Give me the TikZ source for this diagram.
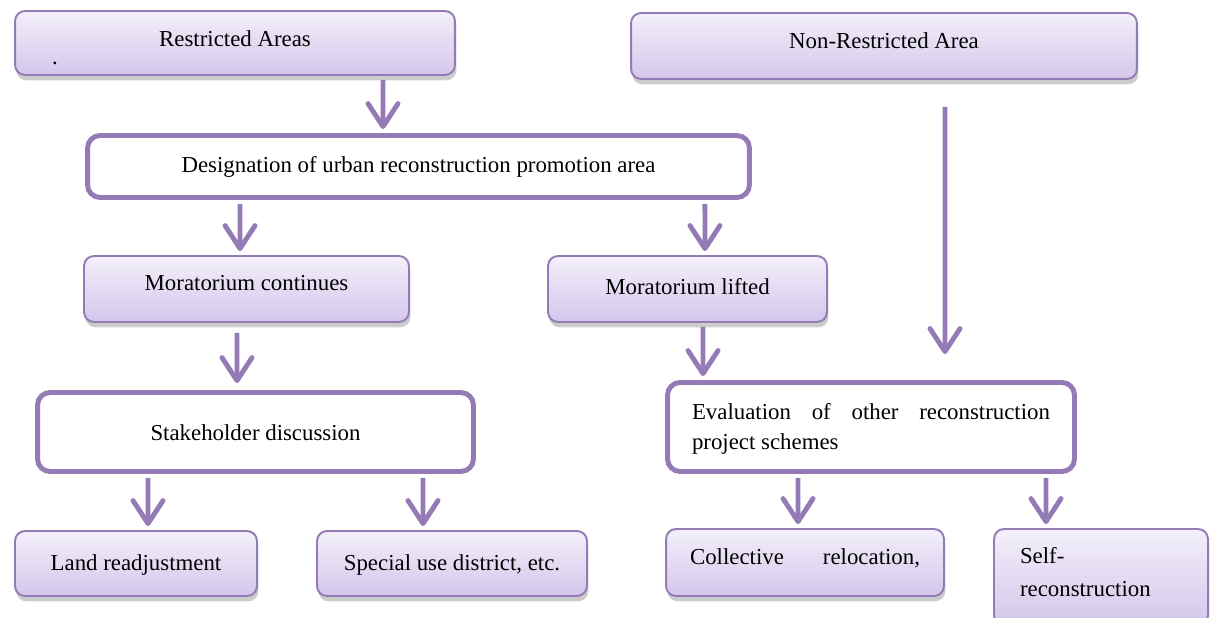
\documentclass[tikz,border=0pt]{standalone}
\usepackage{fontspec}
\setmainfont{Liberation Serif}
\usetikzlibrary{arrows.meta, shadows}
\tikzset{>={Straight Barb[length=4.6mm,width=6mm,round]}}
\definecolor{lineColor}{RGB}{149, 123, 181}
\definecolor{topColor}{RGB}{243, 240, 250}
\definecolor{bottomColor}{RGB}{212, 198, 235}

\begin{document}
\begin{tikzpicture}[
    x = 0.02cm, y = -0.02cm,
    font = \fontsize{13}{17}\selectfont,
    box/.style = {draw=lineColor, line width=1.1pt, rounded corners=2mm,
        top color=topColor, bottom color=bottomColor, inner sep=0mm,
        drop shadow={shadow xshift=0.8pt, shadow yshift=-3pt, opacity=0.4}},
    bigbox/.style = {draw=lineColor, line width=2.8pt, rounded corners=2.5mm,
        fill=white, inner sep=0mm},
    flow/.style = {->, draw=lineColor, line width=2.8pt,
        shorten <=0.08cm, shorten >=0.08cm}
  ]
  \useasboundingbox (0,0) rectangle (1211,618);

  % top row
  \node[box, minimum width=8.8cm, minimum height=1.28cm, align=center,
    text height=0.86cm, text depth=0cm]
    (RA) at (235,43) {Restricted Areas\\[-7pt]\makebox[7.32cm][l]{.}};
  \node[box, minimum width=10.12cm, minimum height=1.32cm, text depth=0.2cm]
    (NRA) at (884,46) {Non-Restricted Area};

  \node[bigbox, minimum width=13.24cm, minimum height=1.24cm]
    (DES) at (418.5,166.5) {Designation of urban reconstruction promotion area};

  \node[box, minimum width=6.5cm, minimum height=1.32cm, text depth=0.24cm]
    (MC) at (246.5,289) {Moratorium continues};
  \node[box, minimum width=5.58cm, minimum height=1.32cm, text depth=0.12cm]
    (ML) at (687.5,289) {Moratorium lifted};

  \node[bigbox, minimum width=8.72cm, minimum height=1.58cm,
    text height=0.35cm, text depth=0cm]
    (SD) at (255.5,432) {Stakeholder discussion};
  \node[bigbox, minimum width=8.14cm, minimum height=1.78cm,
    text width=7.16cm, align=justify, text depth=0.62cm]
    (EV) at (871,427) {Evaluation of other reconstruction\linebreak project schemes};

  % bottom row
  \node[box, minimum width=4.84cm, minimum height=1.3cm, text depth=0.02cm]
    (LR) at (136,563.5) {Land readjustment};
  \node[box, minimum width=5.4cm, minimum height=1.3cm, text depth=0.02cm]
    (SUD) at (452,563.5) {Special use district, etc.};
  \node[box, minimum width=5.56cm, minimum height=1.34cm, text depth=0.22cm]
    (CR) at (805,562.5) {\makebox[4.6cm][s]{Collective relocation,}};
  \node[box, minimum width=4.28cm, minimum height=1.92cm,
    text width=3.24cm, align=left, text depth=0.88cm]
    (SR) at (1101,577) {Self-\\[2pt]reconstruction};

  % arrows
  \draw[flow] ([xshift=2.96cm]RA.south) -- ([xshift=-0.71cm]DES.north);
  \draw[flow] ([xshift=-3.57cm]DES.south) -- ([xshift=-0.13cm]MC.north);
  \draw[flow] ([xshift=5.73cm]DES.south) -- ([xshift=0.35cm]ML.north);
  \draw[flow, shorten <=0.54cm, shorten >=0.52cm]
    ([xshift=1.22cm]NRA.south) -- ([xshift=1.48cm]EV.north);
  \draw[flow, shorten <=0.2cm, shorten >=0.14cm]
    ([xshift=-0.19cm]MC.south) -- ([xshift=-0.37cm]SD.north);
  \draw[flow] ([xshift=0.31cm]ML.south) -- ([xshift=-3.36cm]EV.north);
  \draw[flow] ([xshift=-2.15cm]SD.south) -- ([xshift=0.24cm]LR.north);
  \draw[flow] ([xshift=3.35cm]SD.south) -- ([xshift=-0.58cm]SUD.north);
  \draw[flow] ([xshift=-1.46cm]EV.south) -- ([xshift=-0.14cm]CR.north);
  \draw[flow] ([xshift=3.5cm]EV.south) -- ([xshift=-1.1cm]SR.north);
\end{tikzpicture}
\end{document}
